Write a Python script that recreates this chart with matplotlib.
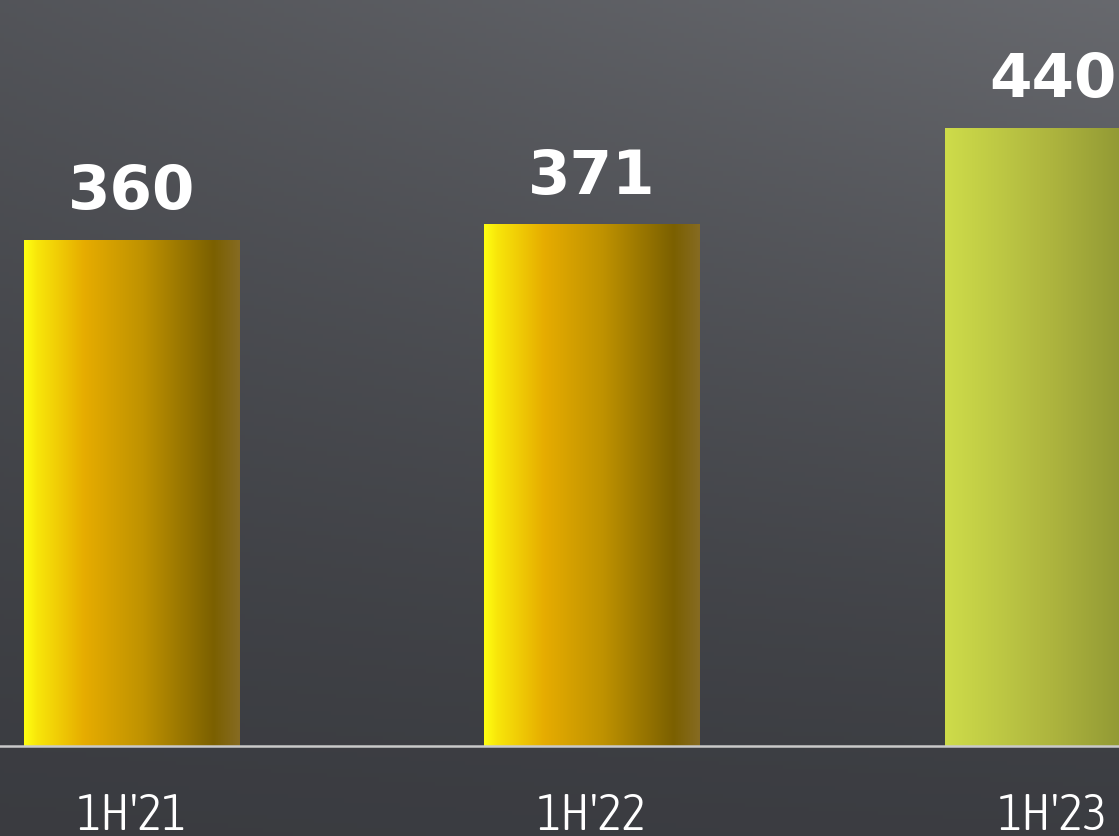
import numpy as np
import matplotlib
matplotlib.use("Agg")
import matplotlib.pyplot as plt
from matplotlib.colors import LinearSegmentedColormap
from matplotlib.patches import Rectangle

# data
periods = ["1H'21", "1H'22", "1H'23"]
values = [360, 371, 440]
bar_styles = ["gold", "gold", "lime"]

gold = LinearSegmentedColormap.from_list(
    "gold", [(0.0, "#FFFF12"), (0.06, "#F8E60A"), (0.28, "#E6AC00"),
             (0.55, "#BF9200"), (0.88, "#7B6000"), (1.0, "#866B22")])
lime = LinearSegmentedColormap.from_list(
    "lime", [(0.0, "#CEDC4A"), (0.5, "#ADB43E"), (1.0, "#828A2F")])
cmaps = {"gold": gold, "lime": lime}

fig = plt.figure(figsize=(11.19, 8.36), dpi=100)
ax = fig.add_axes([0, 0, 1, 1])

x0, x1 = -0.2856, 2.1444
y0, y1 = -64.0, 530.7
ax.set_xlim(x0, x1)
ax.set_ylim(y0, y1)

# background: darker at bottom, a bit lighter towards top right
h, w = 200, 260
yy, xx = np.mgrid[0:1:h * 1j, 0:1:w * 1j]
top = 0.325 + 0.08 * xx
bottom = 0.228 + 0.005 * xx
shade = bottom + (top - bottom) * yy ** 1.3
bg = np.dstack([shade, shade + 0.006, shade + 0.025])
ax.imshow(np.clip(bg, 0, 1), extent=(x0, x1, y0, y1), origin="lower",
          aspect="auto", zorder=0)

width = 0.467
grad = np.linspace(0, 1, 256).reshape(1, -1)
for i, (v, s) in enumerate(zip(values, bar_styles)):
    left = i - width / 2
    im = ax.imshow(grad, cmap=cmaps[s], extent=(left, left + width, 0, v),
                   aspect="auto", zorder=2)
    clip = Rectangle((left, 0), width, v, transform=ax.transData)
    im.set_clip_path(clip)
    ax.text(i, v + 22, str(v), ha="center", va="baseline", color="white",
            fontsize=44, fontweight="bold", family="DejaVu Sans", zorder=3)
    ax.text(i, -59.5, periods[i], ha="center", va="baseline", color="white",
            fontsize=37, fontweight=300,
            family=["Asap Condensed", "DejaVu Sans"], zorder=3)

ax.axhline(0, color="#C9C9C9", lw=1.8, zorder=3)
ax.axis("off")

fig.savefig("out.png", dpi=100)
